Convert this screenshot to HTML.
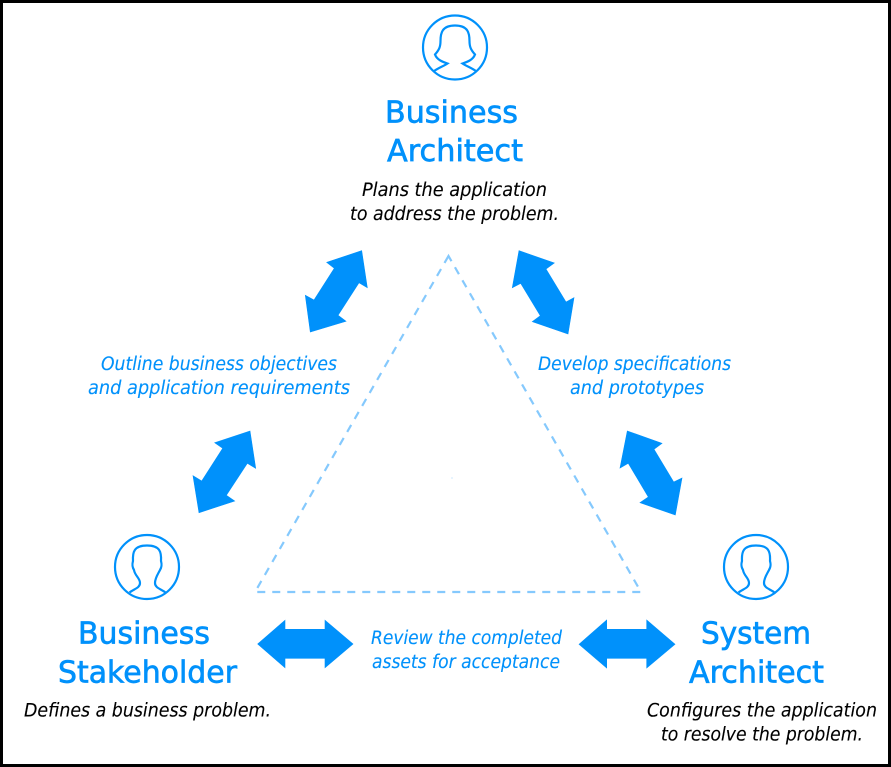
<!DOCTYPE html>
<html><head><meta charset="utf-8"><style>
html,body{margin:0;padding:0;background:#fff}
svg{display:block}
.h{font-family:"DejaVu Sans","Liberation Sans",sans-serif;font-size:30px;fill:#0091fb;stroke:#0091fb;stroke-width:.65}
.b{font-family:"DejaVu Sans",sans-serif;font-style:italic;font-size:18.500px;fill:#000;stroke:#000;stroke-width:.12}
.c{font-family:"DejaVu Sans",sans-serif;font-style:italic;font-size:18.500px;fill:#0091fb;stroke:#0091fb;stroke-width:.12}
.i{fill:none;stroke:#0091fb;stroke-width:2.200}
.a{fill:#0091fb;stroke:#0091fb;stroke-width:.6}
</style></head><body>
<svg width="891" height="767" viewBox="0 0 891 767" xmlns="http://www.w3.org/2000/svg">
<rect width="891" height="767" fill="#000"/>
<rect x="3" y="3" width="885" height="761" fill="#fff"/>
<path d="M448.500 256L255 592H641Z" fill="none" stroke="#85c9fd" stroke-width="2.200" stroke-dasharray="8 7"/>
<rect x="451" y="477.500" width="2" height="1" fill="#cfe9fe"/>
<polygon class="a" points="361.700,250.700 326.700,262.300 334.300,268.300 314,300 305.300,295.300 310.300,332 346,321.300 338,315.300 359,282.700 367.300,287.700"/>
<polygon class="a" points="519,250.700 554.300,263 546,269 566,302 574,297.700 568,334 532.300,321.700 540.300,315.700 520.700,283.300 512.300,287.700"/>
<polygon class="a" points="627.300,431 662,443.300 654,449.300 673.700,482 682,478 675.300,515 640,502.700 648.300,497 628.300,463.300 620,468"/>
<polygon class="a" points="250,431 214.700,442.700 222.700,448.300 201.700,481 193,475.700 199,512.700 234.700,501 226.300,495.300 247.300,463.300 255.700,468.300"/>
<polygon class="a" points="257.700,644 285,620.300 285,629.300 325,629.300 325,620.300 353,644 325,667.700 325,658.300 285,658.300 285,667.700"/>
<polygon class="a" points="579,644.300 606.700,620 606.700,629.300 646.700,629.300 646.700,620 675,644.300 646.700,668 646.700,658.300 606.700,658.300 606.700,668"/>
<circle class="i" cx="455" cy="47.500" r="32"/>
<path class="i" d="M433.500 71.500C438 68 444 66 447.500 63.500C443 62 437 60 435 54.500C439 50 440.500 47 440.500 41C440.500 33 442 25.500 455 25.500C468 25.500 469.500 33 469.500 41C469.500 47 471 50 475 54.500C473 60 467 62 462.500 63.500C466 66 472 68 476.500 71.500"/>
<circle class="i" cx="147" cy="567" r="32"/>
<path class="i" d="M129.500 592.500C134 589 140 588 140 583C140 578 135 576 134 570C131.500 566 132.500 563 133 561C132.500 552 134 545.500 147 545.500C160 545.500 161.500 552 161 561C161.500 563 162.500 566 160 570C158 574 155 578 155 583C155 588 161 589 165.500 592.500"/>
<circle class="i" cx="756" cy="567" r="32"/>
<path class="i" transform="translate(609 0)" d="M129.500 592.500C134 589 140 588 140 583C140 578 135 576 134 570C131.500 566 132.500 563 133 561C132.500 552 134 545.500 147 545.500C160 545.500 161.500 552 161 561C161.500 563 162.500 566 160 570C158 574 155 578 155 583C155 588 161 589 165.500 592.500"/>
<text class="h" x="385" y="122.500" textLength="133" lengthAdjust="spacingAndGlyphs">Business</text>
<text class="h" x="387" y="161" textLength="136" lengthAdjust="spacingAndGlyphs">Architect</text>
<text class="h" x="78" y="643.500" textLength="132" lengthAdjust="spacingAndGlyphs">Business</text>
<text class="h" x="58" y="682.500" textLength="179" lengthAdjust="spacingAndGlyphs">Stakeholder</text>
<text class="h" x="701" y="643.500" textLength="110" lengthAdjust="spacingAndGlyphs">System</text>
<text class="h" x="689" y="682.500" textLength="135" lengthAdjust="spacingAndGlyphs">Architect</text>
<text class="b" x="362" y="196" textLength="185" lengthAdjust="spacingAndGlyphs">Plans the application</text>
<text class="b" x="350" y="220" textLength="209" lengthAdjust="spacingAndGlyphs">to address the problem.</text>
<text class="b" x="24" y="716.500" textLength="247" lengthAdjust="spacingAndGlyphs">Defines a business problem.</text>
<text class="b" x="647" y="716.500" textLength="230" lengthAdjust="spacingAndGlyphs">Configures the application</text>
<text class="b" x="661" y="740.500" textLength="202" lengthAdjust="spacingAndGlyphs">to resolve the problem.</text>
<text class="c" x="101" y="370" textLength="236" lengthAdjust="spacingAndGlyphs">Outline business objectives</text>
<text class="c" x="88" y="394" textLength="262" lengthAdjust="spacingAndGlyphs">and application requirements</text>
<text class="c" x="538" y="370" textLength="193" lengthAdjust="spacingAndGlyphs">Develop specifications</text>
<text class="c" x="570" y="394" textLength="134" lengthAdjust="spacingAndGlyphs">and prototypes</text>
<text class="c" x="371" y="644" textLength="191" lengthAdjust="spacingAndGlyphs">Review the completed</text>
<text class="c" x="372" y="668" textLength="188" lengthAdjust="spacingAndGlyphs">assets for acceptance</text>
</svg>
</body></html>
